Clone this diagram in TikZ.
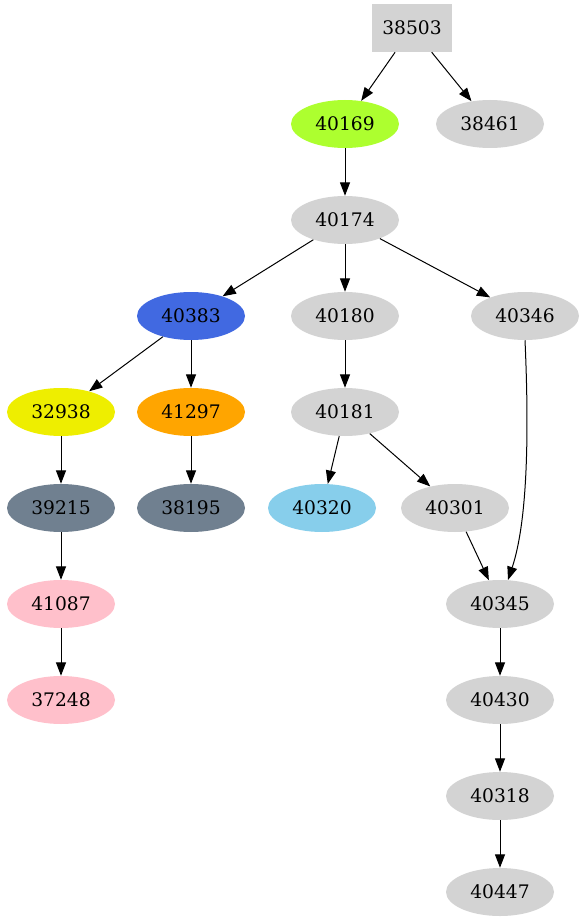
\documentclass[tikz,border=0pt]{standalone}
\usepackage{fontspec}
\setmainfont{DejaVu Serif}
\usetikzlibrary{arrows.meta,shapes.geometric}
\definecolor{lg}{HTML}{D3D3D3}
\definecolor{gy}{HTML}{ADFF2F}
\definecolor{rb}{HTML}{4169E1}
\definecolor{yw}{HTML}{EEEE00}
\definecolor{og}{HTML}{FFA500}
\definecolor{sg}{HTML}{708090}
\definecolor{sb}{HTML}{87CEEB}
\definecolor{pk}{HTML}{FFC0CB}
\begin{document}
\begin{tikzpicture}[x=0.75pt,y=-0.75pt,
  nd/.style={ellipse,fill=#1,minimum width=81pt,minimum height=36pt,inner sep=0pt,font=\fontsize{14}{16}\selectfont},
  nd/.default=lg,
  bx/.style={rectangle,fill=lg,minimum width=60pt,minimum height=36pt,inner sep=0pt,font=\fontsize{14}{16}\selectfont},
  ar/.style={-{Triangle[length=10pt,width=7.5pt]},line width=0.75pt}]
\useasboundingbox (0,0) rectangle (582,923);
\node[bx] (n38503) at (412,28) {38503};
\node[nd=gy] (n40169) at (345,124) {40169};
\node[nd] (n38461) at (490,124) {38461};
\node[nd] (n40174) at (345,220) {40174};
\node[nd=rb] (n40383) at (191,316) {40383};
\node[nd] (n40180) at (345,316) {40180};
\node[nd] (n40346) at (525,316) {40346};
\node[nd=yw] (n32938) at (61,412) {32938};
\node[nd=og] (n41297) at (191,412) {41297};
\node[nd] (n40181) at (345,412) {40181};
\node[nd=sg] (n39215) at (61,508) {39215};
\node[nd=sg] (n38195) at (191,508) {38195};
\node[nd=sb] (n40320) at (322,508) {40320};
\node[nd] (n40301) at (455,508) {40301};
\node[nd=pk] (n41087) at (61,604) {41087};
\node[nd] (n40345) at (500,604) {40345};
\node[nd=pk] (n37248) at (61,700) {37248};
\node[nd] (n40430) at (500,700) {40430};
\node[nd] (n40318) at (500,796) {40318};
\node[nd] (n40447) at (500,892) {40447};
\draw[ar] (n38503) -- (n40169);
\draw[ar] (n38503) -- (n38461);
\draw[ar] (n40169) -- (n40174);
\draw[ar] (n40174) -- (n40383);
\draw[ar] (n40174) -- (n40180);
\draw[ar] (n40174) -- (n40346);
\draw[ar] (n40383) -- (n32938);
\draw[ar] (n40383) -- (n41297);
\draw[ar] (n40180) -- (n40181);
\draw[ar] (n40346.south) .. controls (529,430) and (528,520) .. (n40345);
\draw[ar] (n32938) -- (n39215);
\draw[ar] (n41297) -- (n38195);
\draw[ar] (n40181) -- (n40320);
\draw[ar] (n40181) -- (n40301);
\draw[ar] (n40301) -- (n40345);
\draw[ar] (n39215) -- (n41087);
\draw[ar] (n41087) -- (n37248);
\draw[ar] (n40345) -- (n40430);
\draw[ar] (n40430) -- (n40318);
\draw[ar] (n40318) -- (n40447);
\end{tikzpicture}
\end{document}
